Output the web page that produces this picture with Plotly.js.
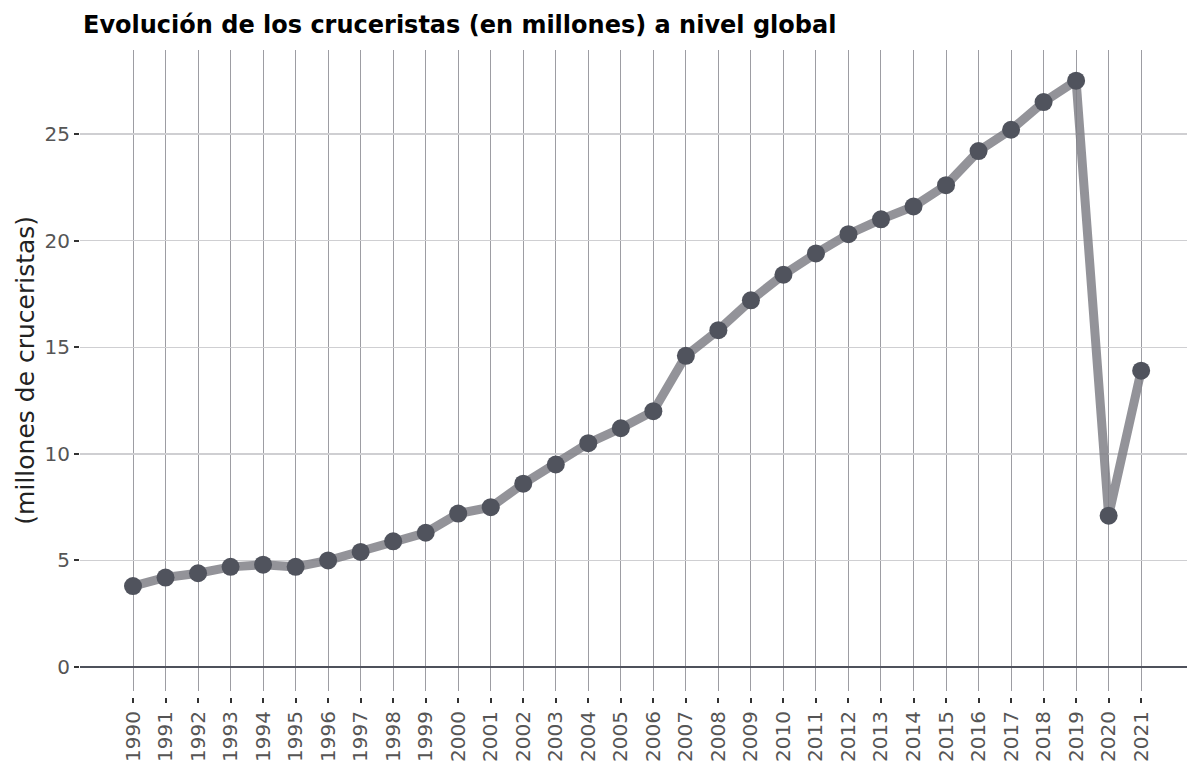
<!DOCTYPE html>
<html>
<head>
<meta charset="utf-8">
<script src="https://cdn.plot.ly/plotly-3.0.1.min.js"></script>
<style>html,body{margin:0;padding:0;background:#fff;}#chart{width:1187px;height:761px;}</style>
</head>
<body>
<div id="chart"></div>
<script>
const years = [1990,1991,1992,1993,1994,1995,1996,1997,1998,1999,2000,2001,2002,2003,2004,2005,2006,2007,2008,2009,2010,2011,2012,2013,2014,2015,2016,2017,2018,2019,2020,2021];
const cruisePassengers = [3.8,4.2,4.4,4.7,4.8,4.7,5.0,5.4,5.9,6.3,7.2,7.5,8.6,9.5,10.5,11.2,12.0,14.6,15.8,17.2,18.4,19.4,20.3,21.0,21.6,22.6,24.2,25.2,26.5,27.5,7.1,13.9];
const yTicks = [0,5,10,15,20,25];
const titleText = "Evolución de los cruceristas (en millones) a nivel global";
const yTitleText = "(millones de cruceristas)";

const font = "DejaVu Sans, sans-serif";

const trace = {
  x: years,
  y: cruisePassengers,
  type: "scatter",
  mode: "lines+markers",
  line: {color: "rgba(128,128,135,0.85)", width: 9},
  marker: {color: "#50535d", size: 18, line: {width: 0}},
  hoverinfo: "x+y"
};

const layout = {
  width: 1187,
  height: 761,
  paper_bgcolor: "#ffffff",
  plot_bgcolor: "#ffffff",
  margin: {l: 80, r: 0, t: 50, b: 64},
  showlegend: false,
  font: {family: font, color: "#555"},
  title: {
    text: "<b>" + titleText + "</b>",
    font: {family: font, size: 24, color: "#000"},
    xref: "container", x: 83/1187, xanchor: "left",
    yref: "container", y: 1 - 25/761, yanchor: "middle"
  },
  xaxis: {
    range: [1988.37, 2022.41],
    tickvals: years,
    ticktext: years.map(String),
    tickangle: -90,
    tickfont: {family: font, size: 20, color: "#555"},
    ticks: "outside", ticklen: 5, tickwidth: 2, tickcolor: "#333",
    showgrid: true, gridcolor: "#9d9da3", gridwidth: 1,
    zeroline: false, showline: false,
    anchor: "free", position: 0
  },
  yaxis: {
    domain: [0.01, 1],
    range: [-1.10, 28.94],
    tickvals: yTicks,
    tickfont: {family: font, size: 20, color: "#555"},
    ticks: "outside", ticklen: 5, tickwidth: 2, tickcolor: "#333",
    showgrid: true, gridcolor: "#cfcfd2", gridwidth: 1.3,
    zeroline: true, zerolinecolor: "#4e515b", zerolinewidth: 2.5,
    showline: false,
    title: {text: yTitleText, font: {family: font, size: 25, color: "#222"}, standoff: 2}
  }
};

Plotly.newPlot("chart", [trace], layout, {displayModeBar: false, staticPlot: true});
</script>
</body>
</html>
